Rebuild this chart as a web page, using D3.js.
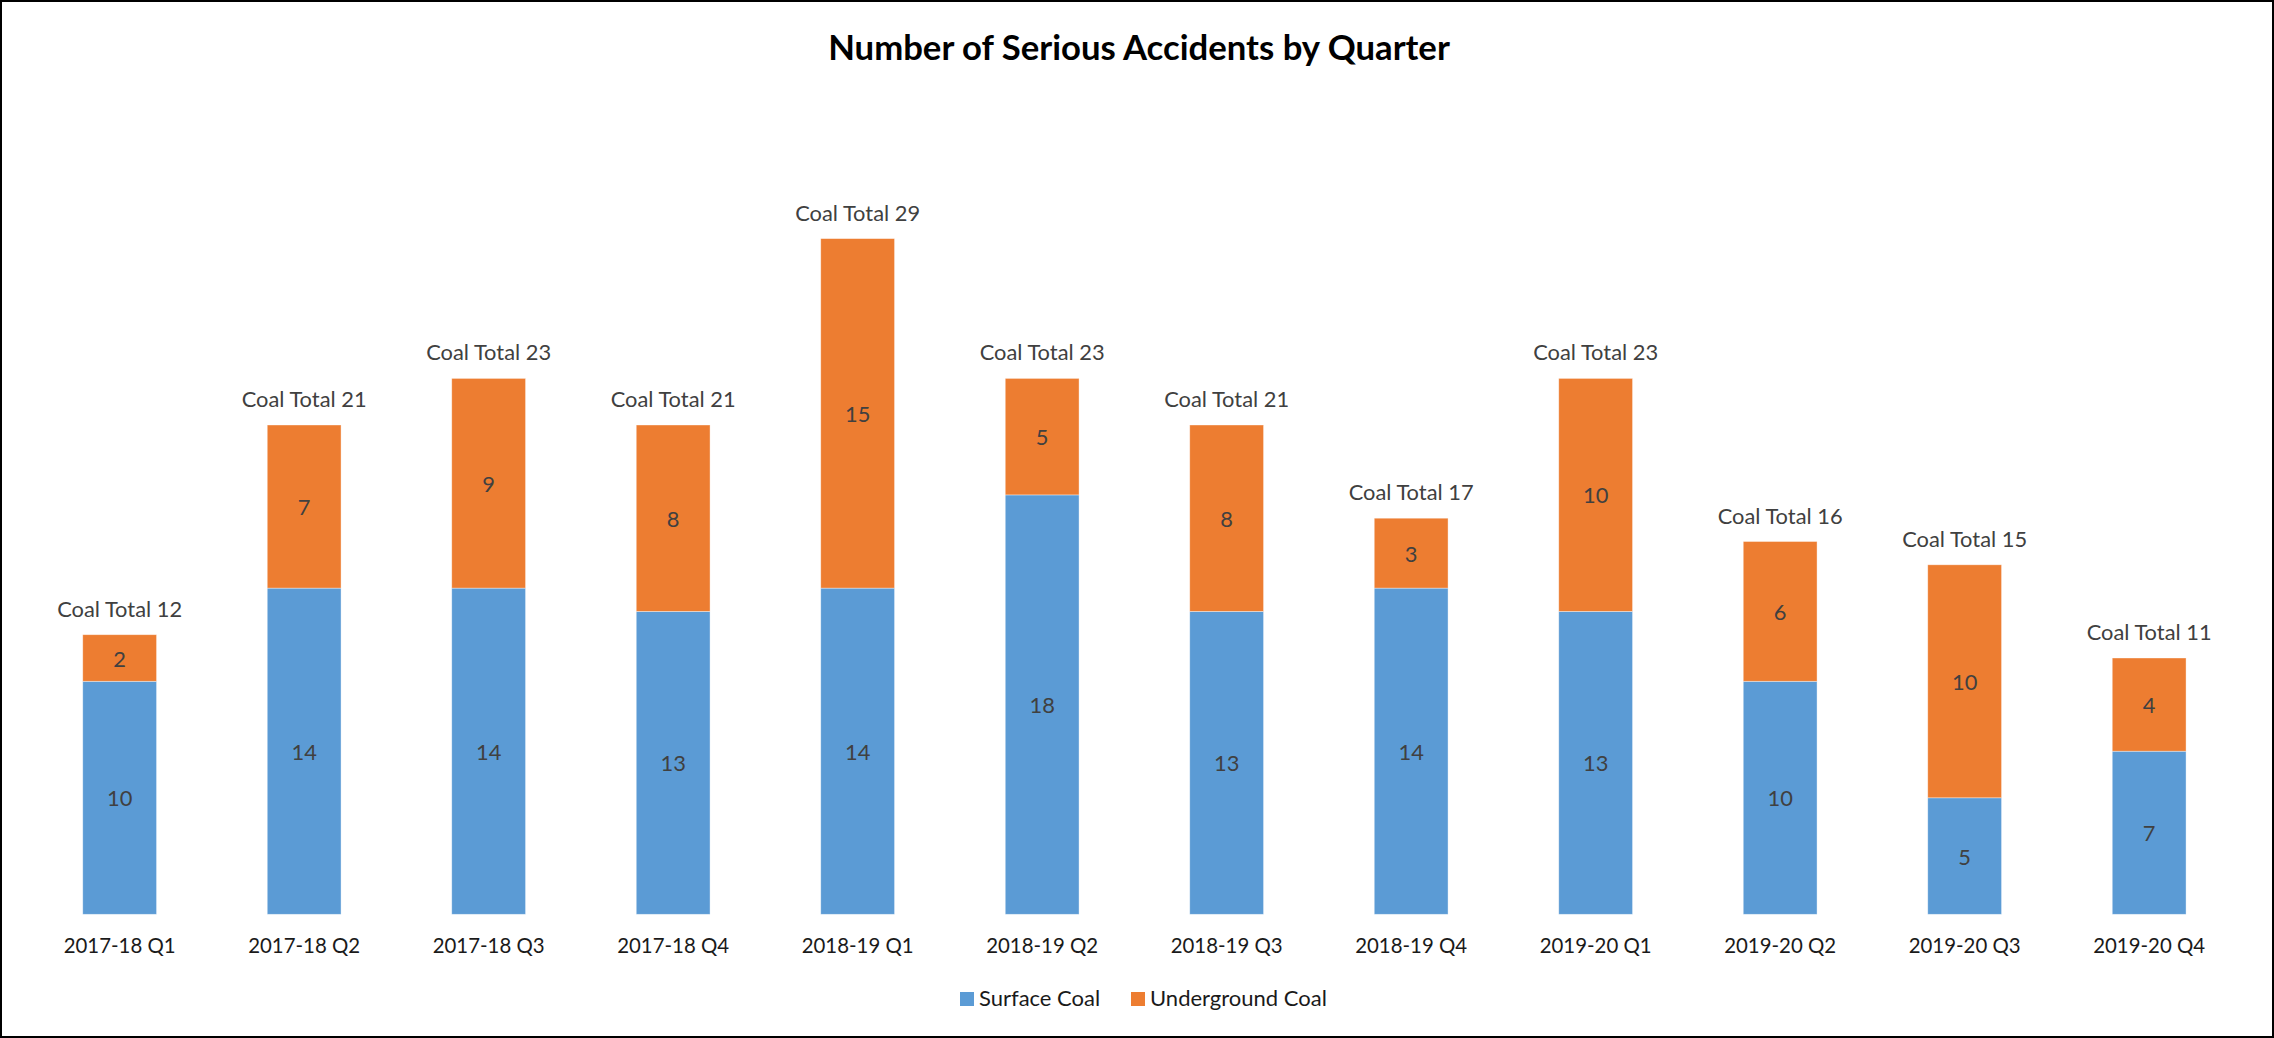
<!DOCTYPE html>
<html>
<head>
<meta charset="utf-8">
<script src="https://cdn.jsdelivr.net/npm/d3@7"></script>
<style>
  html, body { margin: 0; padding: 0; background: #fff; }
  svg { display: block; }
</style>
</head>
<body>
<svg id="chart" width="2274" height="1038"></svg>
<script>
const categories = ["2017-18 Q1","2017-18 Q2","2017-18 Q3","2017-18 Q4","2018-19 Q1","2018-19 Q2","2018-19 Q3","2018-19 Q4","2019-20 Q1","2019-20 Q2","2019-20 Q3","2019-20 Q4"];
const surfaceCoal = [10,14,14,13,14,18,13,14,13,10,5,7];
const undergroundCoal = [2,7,9,8,15,5,8,3,10,6,10,4];
const seriesNames = ["Surface Coal","Underground Coal"];
const totalLabelPrefix = "Coal Total";
const chartTitle = "Number of Serious Accidents by Quarter";

const W = 2274, H = 1038;
const FONT = "Lato, 'Open Sans', sans-serif";
const colors = ["#5B9BD5", "#ED7D31"];

const svg = d3.select("#chart");

function fitSize(str, weight, target) {
  const t = svg.append("text").attr("font-family", FONT).attr("font-weight", weight)
    .attr("font-size", 100).text(str);
  const len = t.node().getComputedTextLength();
  t.remove();
  return 100 * target / len;
}

const titleSize = fitSize(chartTitle, 700, 622);
const catSize = fitSize(categories[0], 400, 112);
const totSize = fitSize(totalLabelPrefix + " 12", 400, 125);
const legSize = fitSize(seriesNames[1], 400, 177);

// background + border
svg.append("rect").attr("x", 0).attr("y", 0).attr("width", W).attr("height", H).attr("fill", "#fff");
svg.append("rect").attr("x", 1).attr("y", 1).attr("width", W - 2).attr("height", H - 2)
  .attr("fill", "none").attr("stroke", "#000").attr("stroke-width", 2);

// title
svg.append("text").attr("x", 1139).attr("y", 46).attr("text-anchor", "middle")
  .attr("dominant-baseline", "central")
  .attr("font-family", FONT).attr("font-weight", 700).attr("font-size", titleSize)
  .attr("fill", "#000").text(chartTitle);

const x = d3.scaleBand().domain(categories).range([27.4, 2241.4]).paddingInner(0.6).paddingOuter(0.3);
const y = d3.scaleLinear().domain([0, 35]).range([914.3, 98.8]);

const rows = categories.map((c, i) => ({ cat: c, s: surfaceCoal[i], u: undergroundCoal[i] }));
const stack = d3.stack().keys(["s", "u"]);
const stacked = stack(rows);

const g = svg.append("g");
stacked.forEach((layer, li) => {
  const lg = g.append("g");
  lg.selectAll("rect").data(layer).enter().append("rect")
    .attr("x", d => x(d.data.cat))
    .attr("y", d => y(d[1]))
    .attr("width", x.bandwidth())
    .attr("height", d => y(d[0]) - y(d[1]))
    .attr("fill", colors[li])
    .attr("stroke", "#fff").attr("stroke-opacity", 0.5).attr("stroke-width", 0.75);
  lg.selectAll("text").data(layer).enter().append("text")
    .attr("x", d => x(d.data.cat) + x.bandwidth() / 2)
    .attr("y", d => (y(d[0]) + y(d[1])) / 2)
    .attr("text-anchor", "middle").attr("dominant-baseline", "central")
    .attr("font-family", FONT).attr("font-size", totSize).attr("fill", "#404040")
    .text(d => d[1] - d[0]);
});

// totals
g.selectAll("text.total").data(rows).enter().append("text").attr("class", "total")
  .attr("x", d => x(d.cat) + x.bandwidth() / 2)
  .attr("y", d => y(d.s + d.u) - 18)
  .attr("text-anchor", "middle")
  .attr("font-family", FONT).attr("font-size", totSize).attr("fill", "#404040")
  .text(d => totalLabelPrefix + " " + (d.s + d.u));

// x axis
const xAxis = d3.axisBottom(x).tickSize(0).tickPadding(0);
const ax = svg.append("g").attr("transform", "translate(0,914.3)").call(xAxis);
ax.select(".domain").remove();
ax.selectAll("text").attr("font-family", FONT).attr("font-size", catSize)
  .attr("fill", "#1a1a1a").attr("dy", null).attr("y", 39);

// legend
const legendItems = [{ name: seriesNames[0], sx: 960 }, { name: seriesNames[1], sx: 1131 }];
legendItems.forEach((it, i) => {
  svg.append("rect").attr("x", it.sx).attr("y", 992).attr("width", 14).attr("height", 14).attr("fill", colors[i]);
  svg.append("text").attr("x", it.sx + 19).attr("y", 1005.5)
    .attr("font-family", FONT).attr("font-size", legSize).attr("fill", "#1a1a1a").text(it.name);
});
</script>
</body>
</html>
